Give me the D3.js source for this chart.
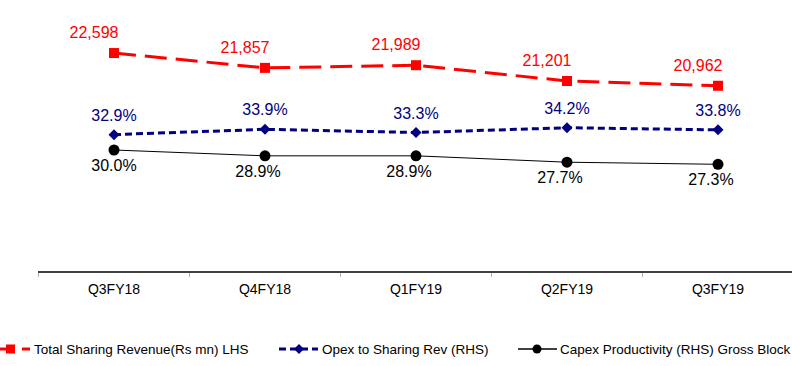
<!DOCTYPE html>
<html>
<head>
<meta charset="utf-8">
<script src="https://cdn.jsdelivr.net/npm/d3@7"></script>
<style>
  html, body { margin: 0; padding: 0; background: #fff; }
  svg { display: block; font-family: "Liberation Sans", Arial, sans-serif; }
</style>
</head>
<body>
<svg id="chart" width="792" height="366"></svg>
<script>
const categories = ["Q3FY18", "Q4FY18", "Q1FY19", "Q2FY19", "Q3FY19"];
const revenue = [22598, 21857, 21989, 21201, 20962];
const opexPct = [32.9, 33.9, 33.3, 34.2, 33.8];
const capexPct = [30.0, 28.9, 28.9, 27.7, 27.3];
const seriesNames = ["Total Sharing Revenue(Rs mn) LHS", "Opex to Sharing Rev (RHS)", "Capex Productivity (RHS) Gross Block"];

const svg = d3.select("#chart");
const W = 792, H = 366;

const x = d3.scaleBand().domain(categories).range([38.5, 38.5 + 151 * 5]);
const yL = d3.scaleLinear().domain([10000, 25000]).range([305, 5]);
const yR = d3.scaleLinear().domain([0, 40]).range([309, 97]);
const cx = c => x(c) + x.bandwidth() / 2;

// x axis
const axisY = 272;
const xAxis = d3.axisBottom(x).tickSize(0).tickPadding(0);
const gx = svg.append("g").attr("transform", `translate(0,${axisY})`).call(xAxis);
gx.select(".domain").remove();
gx.selectAll("text").remove();
svg.append("line").attr("x1", 38).attr("x2", W).attr("y1", axisY).attr("y2", axisY)
  .attr("stroke", "#000").attr("stroke-width", 1.5);
const edges = categories.map(c => x(c));
svg.selectAll("line.tk").data(edges).enter().append("line").attr("class", "tk")
  .attr("x1", d => d).attr("x2", d => d).attr("y1", axisY + 1).attr("y2", axisY + 5)
  .attr("stroke", "#b0b0b0").attr("stroke-width", 1);
svg.selectAll("text.cat").data(categories).enter().append("text").attr("class", "cat")
  .attr("x", d => cx(d)).attr("y", 294).attr("text-anchor", "middle")
  .attr("font-size", "14px").attr("fill", "#000").text(d => d);

const revData = categories.map((c, i) => ({ c, v: revenue[i] }));
const opexData = categories.map((c, i) => ({ c, v: opexPct[i] }));
const capexData = categories.map((c, i) => ({ c, v: capexPct[i] }));

// Capex line (solid black)
svg.append("path").datum(capexData)
  .attr("d", d3.line().x(d => cx(d.c)).y(d => yR(d.v)))
  .attr("fill", "none").attr("stroke", "#000").attr("stroke-width", 1);
svg.selectAll("circle.cap").data(capexData).enter().append("circle").attr("class", "cap")
  .attr("cx", d => cx(d.c)).attr("cy", d => yR(d.v)).attr("r", 5.5).attr("fill", "#000");
svg.selectAll("text.capl").data(capexData).enter().append("text").attr("class", "capl")
  .attr("x", (d, i) => cx(d.c) - (i === 0 ? 0 : 7)).attr("y", d => yR(d.v) + 21)
  .attr("text-anchor", "middle").attr("font-size", "16px").attr("fill", "#000")
  .text(d => d.v.toFixed(1) + "%");

// Opex line (navy short dash)
svg.append("path").datum(opexData)
  .attr("d", d3.line().x(d => cx(d.c)).y(d => yR(d.v)))
  .attr("fill", "none").attr("stroke", "#000080").attr("stroke-width", 3)
  .attr("stroke-dasharray", "7,4");
svg.selectAll("path.op").data(opexData).enter().append("path").attr("class", "op")
  .attr("d", "M0,-5.5L5.5,0L0,5.5L-5.5,0Z")
  .attr("transform", d => `translate(${cx(d.c)},${yR(d.v)})`).attr("fill", "#000080");
svg.selectAll("text.opl").data(opexData).enter().append("text").attr("class", "opl")
  .attr("x", d => cx(d.c)).attr("y", d => yR(d.v) - 14)
  .attr("text-anchor", "middle").attr("font-size", "16px").attr("fill", "#000080")
  .text(d => d.v.toFixed(1) + "%");

// Revenue line (red long dash)
svg.append("path").datum(revData)
  .attr("d", d3.line().x(d => cx(d.c)).y(d => yL(d.v)))
  .attr("fill", "none").attr("stroke", "#ff0000").attr("stroke-width", 3)
  .attr("stroke-dasharray", "22,9");
svg.selectAll("rect.rv").data(revData).enter().append("rect").attr("class", "rv")
  .attr("x", d => cx(d.c) - 5).attr("y", d => yL(d.v) - 5).attr("width", 10).attr("height", 10)
  .attr("fill", "#ff0000");
const fmt = d3.format(",");
svg.selectAll("text.rvl").data(revData).enter().append("text").attr("class", "rvl")
  .attr("x", d => cx(d.c) - 20).attr("y", d => yL(d.v) - 15)
  .attr("text-anchor", "middle").attr("font-size", "16px").attr("fill", "#ff0000")
  .text(d => fmt(d.v));

// Legend
const ly = 349;
const lg = svg.append("g");
lg.append("line").attr("x1", -2).attr("x2", 15).attr("y1", ly).attr("y2", ly)
  .attr("stroke", "#ff0000").attr("stroke-width", 3);
lg.append("line").attr("x1", 22).attr("x2", 30).attr("y1", ly).attr("y2", ly)
  .attr("stroke", "#ff0000").attr("stroke-width", 3);
lg.append("rect").attr("x", 6).attr("y", ly - 4.5).attr("width", 9).attr("height", 9).attr("fill", "#ff0000");
lg.append("text").attr("x", 34).attr("y", ly + 5).attr("font-size", "13.5px").attr("fill", "#000").text(seriesNames[0]);
lg.append("line").attr("x1", 279).attr("x2", 318).attr("y1", ly).attr("y2", ly)
  .attr("stroke", "#000080").attr("stroke-width", 3).attr("stroke-dasharray", "7,4");
lg.append("path").attr("d", "M0,-5L5,0L0,5L-5,0Z").attr("transform", `translate(299,${ly})`).attr("fill", "#000080");
lg.append("text").attr("x", 322).attr("y", ly + 5).attr("font-size", "13.5px").attr("fill", "#000").text(seriesNames[1]);
lg.append("line").attr("x1", 518).attr("x2", 557).attr("y1", ly).attr("y2", ly)
  .attr("stroke", "#000").attr("stroke-width", 1.5);
lg.append("circle").attr("cx", 537).attr("cy", ly).attr("r", 4.5).attr("fill", "#000");
lg.append("text").attr("x", 560).attr("y", ly + 5).attr("font-size", "13.5px").attr("fill", "#000").text(seriesNames[2]);
</script>
</body>
</html>
